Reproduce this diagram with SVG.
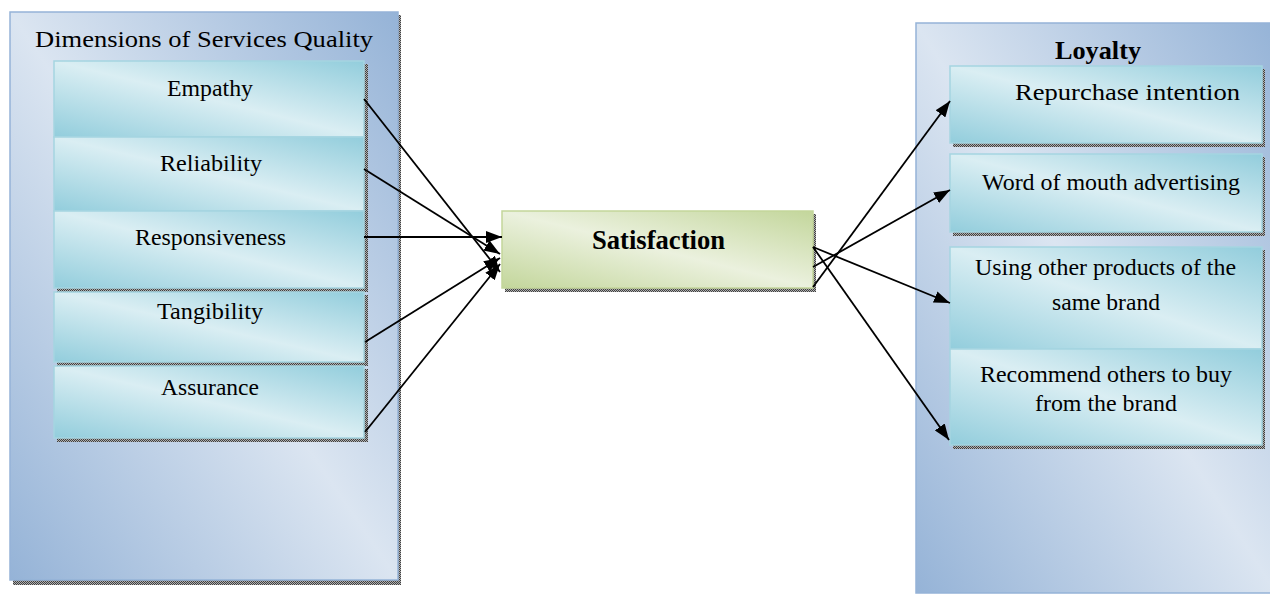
<svg xmlns="http://www.w3.org/2000/svg" width="1270" height="596" viewBox="0 0 1270 596">
<defs>
<linearGradient id="gBlue" x1="0" y1="1" x2="1" y2="0">
<stop offset="0" stop-color="#95b3d7"/><stop offset="0.5" stop-color="#dbe5f1"/><stop offset="1" stop-color="#95b3d7"/>
</linearGradient>
<linearGradient id="gTeal" x1="0" y1="1" x2="1" y2="0">
<stop offset="0" stop-color="#92cddc"/><stop offset="0.5" stop-color="#daeef3"/><stop offset="1" stop-color="#92cddc"/>
</linearGradient>
<linearGradient id="gGreen" x1="0" y1="1" x2="1" y2="0">
<stop offset="0" stop-color="#c3d69b"/><stop offset="0.5" stop-color="#ebf1de"/><stop offset="1" stop-color="#c3d69b"/>
</linearGradient>
<pattern id="dots" width="2" height="2" patternUnits="userSpaceOnUse">
<rect width="2" height="2" fill="#b0b0b0"/><rect width="1" height="1" fill="#404040"/><rect x="1" y="1" width="1" height="1" fill="#404040"/>
</pattern>
<marker id="ah" markerUnits="userSpaceOnUse" markerWidth="16" markerHeight="12" refX="16" refY="6" orient="auto">
<path d="M0,0 L16,6 L0,12 z" fill="#000"/>
</marker>
</defs>
<style>
.outer{fill:url(#gBlue);stroke:#95b3d7;stroke-width:1.5}
.inner{fill:url(#gTeal);stroke:#a5d5e1;stroke-width:1.5}
.green{fill:url(#gGreen);stroke:#c3d69b;stroke-width:1.5}
.shadow{fill:url(#dots)}
.t{font-family:"Liberation Serif","Times New Roman",serif;font-size:24px;fill:#000}
.b{font-weight:bold}
.conn line{stroke:#000;stroke-width:1.8;marker-end:url(#ah)}
</style>

<g id="services-quality">
<rect class="shadow" x="13" y="15" width="388" height="570"/>
<rect class="outer" x="10" y="12" width="388" height="568"/>
<text class="t" x="35" y="47" textLength="338" lengthAdjust="spacingAndGlyphs">Dimensions of Services Quality</text>
</g>
<g id="empathy">
<rect class="shadow" x="57" y="64" width="311" height="76"/>
<rect class="inner" x="54" y="61" width="310" height="76"/>
<text class="t" x="167" y="96" textLength="86" lengthAdjust="spacingAndGlyphs">Empathy</text>
</g>
<g id="reliability">
<rect class="shadow" x="57" y="140" width="311" height="74"/>
<rect class="inner" x="54" y="137" width="310" height="74"/>
<text class="t" x="160" y="171" textLength="102" lengthAdjust="spacingAndGlyphs">Reliability</text>
</g>
<g id="responsiveness">
<rect class="shadow" x="57" y="214" width="311" height="78"/>
<rect class="inner" x="54" y="211" width="310" height="77"/>
<text class="t" x="135" y="245" textLength="151" lengthAdjust="spacingAndGlyphs">Responsiveness</text>
</g>
<g id="tangibility">
<rect class="shadow" x="57" y="295" width="311" height="71"/>
<rect class="inner" x="54" y="292" width="310" height="70"/>
<text class="t" x="157" y="319" textLength="106" lengthAdjust="spacingAndGlyphs">Tangibility</text>
</g>
<g id="assurance">
<rect class="shadow" x="57" y="369" width="311" height="73"/>
<rect class="inner" x="54" y="366" width="310" height="72"/>
<text class="t" x="161" y="395" textLength="98" lengthAdjust="spacingAndGlyphs">Assurance</text>
</g>

<g id="satisfaction">
<rect class="shadow" x="505" y="214" width="311" height="78"/>
<rect class="green" x="502" y="211" width="311" height="77"/>
<text class="t b" x="592" y="249" textLength="133" lengthAdjust="spacingAndGlyphs" style="font-size:27px">Satisfaction</text>
</g>

<g id="loyalty">
<rect class="outer" x="916" y="23" width="360" height="570"/>
<text class="t b" x="1055" y="59" textLength="86" lengthAdjust="spacingAndGlyphs" style="font-size:25px">Loyalty</text>
</g>
<g id="repurchase">
<rect class="shadow" x="953" y="69" width="312" height="78"/>
<rect class="inner" x="950" y="66" width="312" height="77"/>
<text class="t" x="1015" y="100" textLength="225" lengthAdjust="spacingAndGlyphs">Repurchase intention</text>
</g>
<g id="word-of-mouth">
<rect class="shadow" x="953" y="157" width="312" height="79"/>
<rect class="inner" x="950" y="154" width="312" height="78"/>
<text class="t" x="982" y="190" textLength="258" lengthAdjust="spacingAndGlyphs">Word of mouth advertising</text>
</g>
<g id="other-products">
<rect class="shadow" x="953" y="250" width="312" height="102"/>
<rect class="inner" x="950" y="247" width="312" height="102"/>
<text class="t" x="975" y="275" textLength="261" lengthAdjust="spacingAndGlyphs">Using other products of the</text>
<text class="t" x="1052" y="310" textLength="108" lengthAdjust="spacingAndGlyphs">same brand</text>
</g>
<g id="recommend">
<rect class="shadow" x="953" y="352" width="312" height="97"/>
<rect class="inner" x="950" y="349" width="312" height="96"/>
<text class="t" x="980" y="382" textLength="252" lengthAdjust="spacingAndGlyphs">Recommend others to buy</text>
<text class="t" x="1035" y="411" textLength="142" lengthAdjust="spacingAndGlyphs">from the brand</text>
</g>

<g id="connectors" class="conn">
<line x1="364" y1="99" x2="500" y2="272"/>
<line x1="364" y1="169" x2="500" y2="254"/>
<line x1="364" y1="237" x2="502" y2="237"/>
<line x1="365" y1="342" x2="500" y2="258"/>
<line x1="365" y1="432" x2="500" y2="264"/>
<line x1="813" y1="287" x2="950" y2="101"/>
<line x1="813" y1="267" x2="950" y2="190"/>
<line x1="813" y1="247" x2="950" y2="303"/>
<line x1="813" y1="247" x2="949" y2="440"/>
</g>
</svg>
